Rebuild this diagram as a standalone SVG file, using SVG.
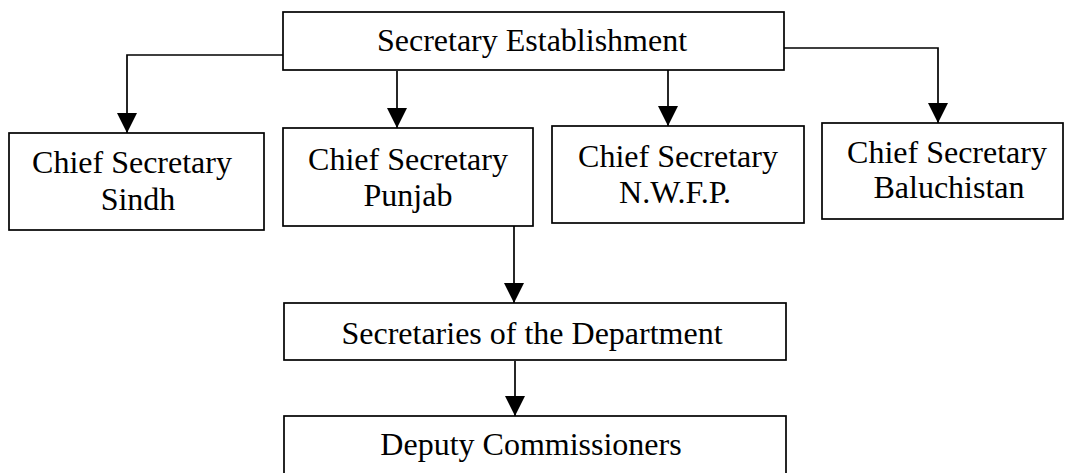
<svg xmlns="http://www.w3.org/2000/svg" width="1065" height="473" viewBox="0 0 1065 473">
  <style>
    .box { fill: #ffffff; stroke: #000000; stroke-width: 1.7; }
    .lbl { font-family: "Liberation Serif", "Times New Roman", serif; font-size: 32px; fill: #000000; text-anchor: middle; }
    .conn { fill: none; stroke: #000000; stroke-width: 1.7; marker-end: url(#arrow); }
  </style>
  <defs>
    <marker id="arrow" markerUnits="userSpaceOnUse" markerWidth="20" markerHeight="20" refX="20" refY="10" orient="auto">
      <path d="M0,0 L20,10 L0,20 Z" fill="#000000"/>
    </marker>
  </defs>
  <rect width="1065" height="473" fill="#ffffff"/>
  <g id="connectors">
    <path class="conn" d="M283,55 H127 V133"/>
    <path class="conn" d="M397,71 V128"/>
    <path class="conn" d="M668,69 V126"/>
    <path class="conn" d="M784,48 H938 V123"/>
    <path class="conn" d="M514,226 V303"/>
    <path class="conn" d="M515,361 V416"/>
  </g>
  <g id="secretary-establishment">
    <rect class="box" x="283" y="12" width="501" height="58"/>
    <text class="lbl" x="532" y="51">Secretary Establishment</text>
  </g>
  <g id="cs-sindh">
    <rect class="box" x="9" y="133" width="255" height="97"/>
    <text class="lbl" x="132" y="173">Chief Secretary</text>
    <text class="lbl" x="138" y="210">Sindh</text>
  </g>
  <g id="cs-punjab">
    <rect class="box" x="283" y="128" width="250" height="98"/>
    <text class="lbl" x="408" y="170">Chief Secretary</text>
    <text class="lbl" x="408" y="206">Punjab</text>
  </g>
  <g id="cs-nwfp">
    <rect class="box" x="552" y="126" width="252" height="97"/>
    <text class="lbl" x="678" y="167">Chief Secretary</text>
    <text class="lbl" x="675" y="203">N.W.F.P.</text>
  </g>
  <g id="cs-baluchistan">
    <rect class="box" x="822" y="123" width="241" height="96"/>
    <text class="lbl" x="947" y="163">Chief Secretary</text>
    <text class="lbl" x="949" y="198">Baluchistan</text>
  </g>
  <g id="secretaries">
    <rect class="box" x="284" y="303" width="502" height="57"/>
    <text class="lbl" x="532" y="344">Secretaries of the Department</text>
  </g>
  <g id="deputy-commissioners">
    <rect class="box" x="284" y="416" width="502" height="60"/>
    <text class="lbl" x="531" y="455">Deputy Commissioners</text>
  </g>
</svg>
